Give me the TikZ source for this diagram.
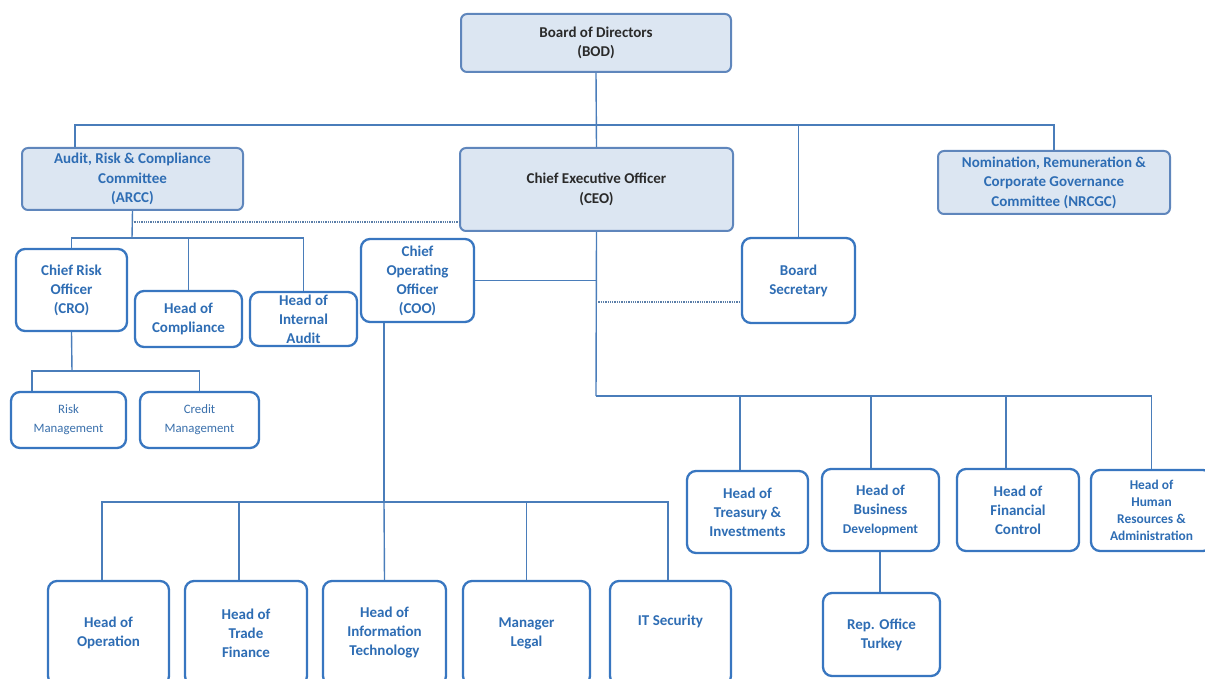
\documentclass[tikz,border=0pt]{standalone}
\usepackage{fontspec}
\setmainfont{Carlito}
\definecolor{txtblue}{HTML}{2E6DB4}
\definecolor{boxblue}{HTML}{3876C0}
\definecolor{linecol}{HTML}{4A7DBA}
\definecolor{fillblue}{HTML}{DCE6F2}
\definecolor{fillborder}{HTML}{5F86BC}
\definecolor{darktxt}{HTML}{2A2A2A}
\begin{document}
\begin{tikzpicture}[x=1pt,y=-1pt,
  wbox/.style={draw=boxblue,line width=2.3pt,rounded corners=9pt,fill=white,align=center,
    text=txtblue,font=\bfseries\fontsize{15}{19}\selectfont,inner sep=0pt},
  fbox/.style={draw=fillborder,line width=2pt,rounded corners=6pt,fill=fillblue,align=center,
    text=txtblue,font=\bfseries\fontsize{15}{19.5}\selectfont,inner sep=0pt},
  small/.style={font=\bfseries\fontsize{13.4}{17}\selectfont},
  light/.style={font=\fontsize{12.8}{19}\selectfont,text=txtblue!85!gray},
  conn/.style={draw=linecol,line width=1.4pt},
  dotline/.style={draw=linecol!70!gray,line width=1.3pt,densely dotted},
  sz/.style 2 args={minimum width=#1pt,minimum height=#2pt}]
\useasboundingbox (0,0) rectangle (1205,679);
% top level
\node[fbox,sz={270}{58},text=darktxt] (bod) at (596,43) {Board of Directors\\(BOD)};
\node[fbox,sz={221}{62}] (arcc) at (132.5,179) {Audit, Risk \& Compliance\\Committee\\(ARCC)};
\node[fbox,sz={273}{83},text=darktxt] (ceo) at (596.5,189.5) {Chief Executive Officer\\(CEO)};
\node[fbox,sz={232}{63}] (nrcgc) at (1054,182.5) {Nomination, Remuneration \&\\Corporate Governance\\Committee (NRCGC)};
% second level
\node[wbox,sz={111}{82}] (cro) at (71.5,290) {Chief Risk\\Officer\\(CRO)};
\node[wbox,sz={107}{56}] (hcomp) at (188.5,319) {Head of\\Compliance};
\node[wbox,sz={107}{54}] (haudit) at (303.5,319) {Head of\\Internal\\Audit};
\node[wbox,sz={113}{83}] (coo) at (417.5,280.5) {Chief\\Operating\\Officer\\(COO)};
\node[wbox,sz={113}{85}] (bsec) at (798.5,280.5) {Board\\Secretary};
% CRO children
\node[wbox,light,sz={115}{56}] (riskm) at (68.5,420) {Risk\\Management};
\node[wbox,light,sz={119}{56}] (credm) at (199.5,420) {Credit\\Management};
% CEO children
\node[wbox,sz={121}{82}] (treas) at (747.5,512) {Head of\\Treasury \&\\Investments};
\node[wbox,sz={117}{82}] (bdev) at (880.5,510) {Head of\\Business\\{\bfseries\fontsize{13.4}{17}\selectfont Development}};
\node[wbox,sz={122}{82}] (fctrl) at (1018,510) {Head of\\Financial\\Control};
\node[wbox,small,sz={121}{81}] (hr) at (1151.5,510.5) {Head of\\Human\\Resources \&\\Administration};
\node[wbox,sz={117}{83}] (rep) at (881.5,634.5) {Rep. Office\\Turkey};
% COO children
\node[wbox,sz={121}{104}] (hop) at (108.5,633) {Head of\\Operation};
\node[wbox,sz={122}{104}] (htf) at (246,633) {Head of\\Trade\\Finance};
\node[wbox,sz={123}{104}] (hit) at (384.5,633) {Head of\\Information\\Technology};
\node[wbox,sz={127}{104}] (mleg) at (526.5,633) {Manager\\Legal};
\node[wbox,sz={121}{104}] (itsec) at (670.5,633) {};
\node[text=txtblue,font=\bfseries\fontsize{15}{19}\selectfont] (itsect) at (670.5,621) {IT Security};
% connectors: board level
\coordinate (bus1) at (596,125);
\draw[conn] (bod.south) -- (ceo.north);
\draw[conn] ([xshift=-57.5pt]arcc.north) |- (bus1);
\draw[conn] (bus1) -| (nrcgc.north);
\draw[conn] (bus1) -| (bsec.north);
% ARCC
\coordinate (arccbus) at (132,238);
\coordinate (dotA) at (132,222);
\draw[conn] (arcc.south) -- (arccbus);
\draw[conn] (arccbus) -| (cro.north);
\draw[conn] (arccbus) -| (hcomp.north);
\draw[conn] (arccbus) -| (haudit.north);
\draw[dotline] (dotA) -- (dotA -| ceo.west);
% CRO
\coordinate (crobus) at (72,371);
\draw[conn] (cro.south) -- (crobus);
\draw[conn] (crobus) -| ([xshift=-36.5pt]riskm.north);
\draw[conn] (crobus) -| (credm.north);
% CEO
\coordinate (ceobus) at (596,396);
\coordinate (dotB) at (596,302);
\draw[conn] (ceo.south) -- (ceobus);
\draw[conn] (coo.east) -- (coo.east -| ceobus);
\draw[dotline] (dotB) -- (dotB -| bsec.west);
\draw[conn] (ceobus) -| ([xshift=-7.5pt]treas.north);
\draw[conn] (ceobus) -| ([xshift=-9.5pt]bdev.north);
\draw[conn] (ceobus) -| ([xshift=-12pt]fctrl.north);
\draw[conn] (ceobus) -| (hr.north);
\draw[conn] ([xshift=-0.5pt]bdev.south) -- ([xshift=-0.5pt]bdev.south |- rep.north);
% COO
\coordinate (coobus) at (384,502);
\draw[conn] (coobus |- coo.south) -- (coobus);
\draw[conn] (coobus) -| ([xshift=-6.5pt]hop.north);
\draw[conn] (coobus) -| ([xshift=-7pt]htf.north);
\draw[conn] (coobus) -- (hit.north);
\draw[conn] (coobus) -| (mleg.north);
\draw[conn] (coobus) -| ([xshift=-2.5pt]itsec.north);
\end{tikzpicture}
\end{document}
